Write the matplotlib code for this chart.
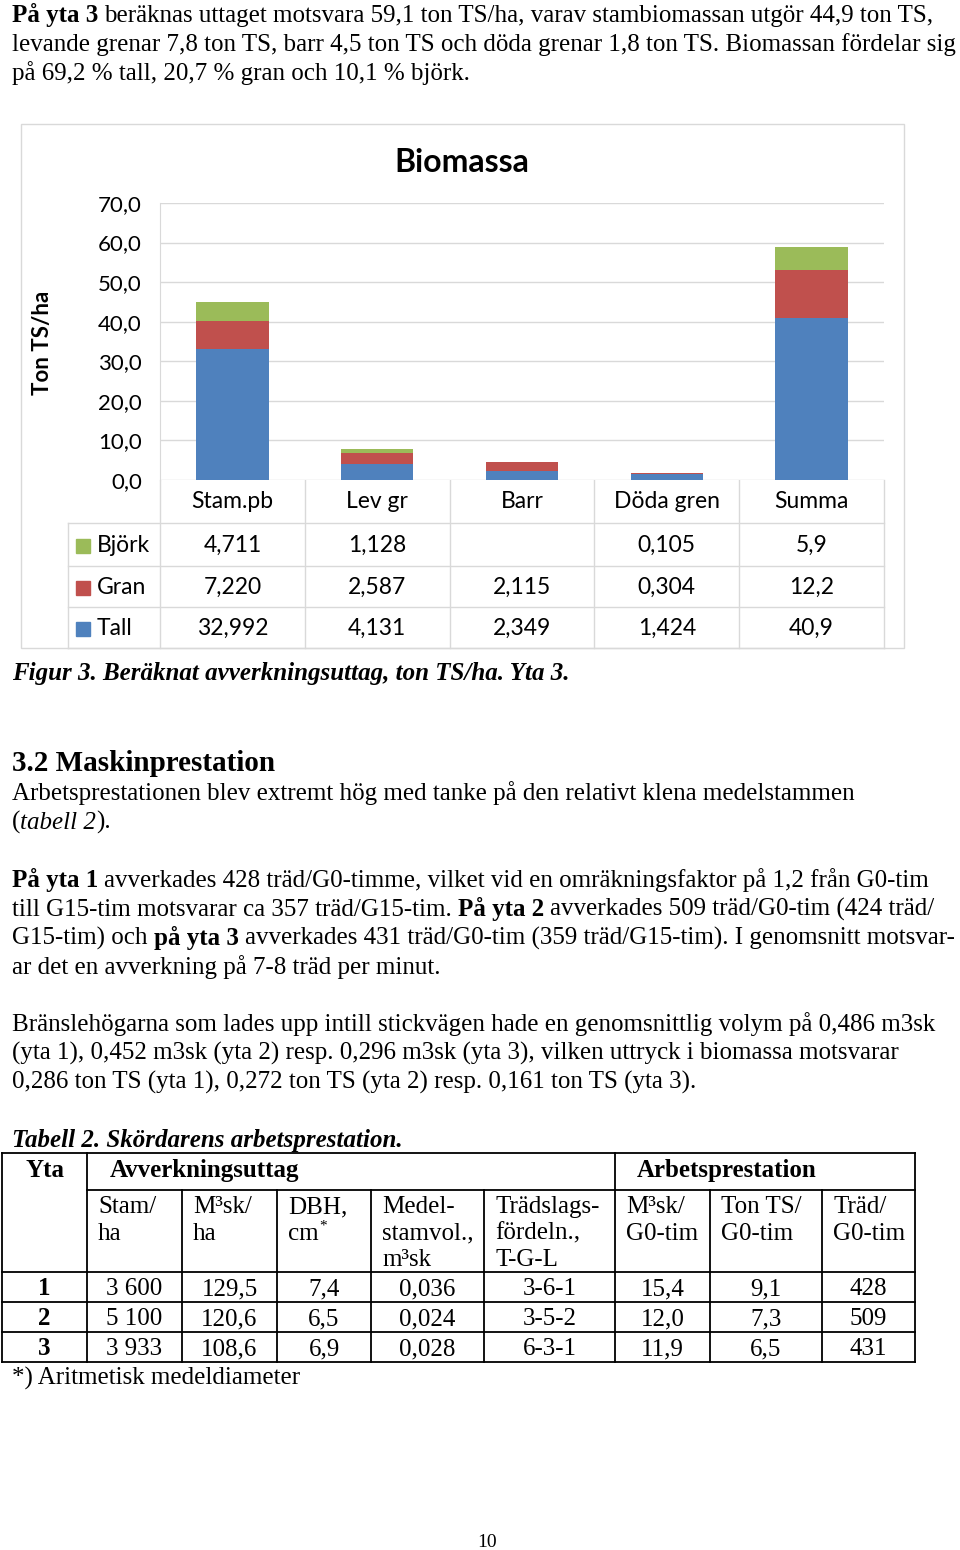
import matplotlib.pyplot as plt
from matplotlib.patches import Rectangle

# Figur 3 - biomassa per fraktion (ton TS/ha)
categories = ['Stam.pb', 'Lev gr', 'Barr', 'Döda gren', 'Summa']
series_names = ['Björk', 'Gran', 'Tall']
tall = [32.992, 4.131, 2.349, 1.424, 40.9]
gran = [7.220, 2.587, 2.115, 0.304, 12.2]
bjork = [4.711, 1.128, None, 0.105, 5.9]
decimals = [3, 3, 3, 3, 1]
yticks = [0, 10, 20, 30, 40, 50, 60, 70]

# Tabell 2 - skördarens arbetsprestation
yta = ['1', '2', '3']
stam_ha = ['3 600', '5 100', '3 933']
m3sk_ha = [129.5, 120.6, 108.6]
dbh = [7.4, 6.5, 6.9]
medelstamvol = [0.036, 0.024, 0.028]
tradslag = ['3-6-1', '3-5-2', '6-3-1']
m3sk_g0 = [15.4, 12.0, 11.9]
tonts_g0 = [9.1, 7.3, 6.5]
trad_g0 = [428, 509, 431]
headers = [['Stam/', 'ha'], ['M³sk/', 'ha'], ['DBH,', 'cm'], ['Medel-', 'stamvol.,', 'm³sk'],
           ['Trädslags-', 'fördeln.,', 'T-G-L'], ['M³sk/', 'G0-tim'], ['Ton TS/', 'G0-tim'], ['Träd/', 'G0-tim']]

BLUE, RED, GREEN = '#4F81BD', '#C0504D', '#9BBB59'
GRID = '#d9d9d9'
SERIF = 'Liberation Serif'
SANS = 'Lato'
BODY = 18

W, H = 960, 1550
fig = plt.figure(figsize=(W / 100, H / 100), dpi=100)
page = fig.add_axes([0, 0, 1, 1])
page.set_xlim(0, W)
page.set_ylim(H, 0)
page.axis('off')
renderer = fig.canvas.get_renderer()


def comma(v, d):
    return f'{v:.{d}f}'.replace('.', ',')


def ext(s, kw):
    t = page.text(0, 0, s, **kw)
    w = t.get_window_extent(renderer).width
    t.remove()
    return w


def rich(x, y, parts, size=BODY):
    # parts = (text, weight, style), each drawn as one string after the other
    for s, weight, style in parts:
        kw = dict(fontsize=size, family=SERIF, weight=weight, style=style, va='baseline')
        xx = ext('xx', kw)
        sp = ext('x x', kw) - xx
        core = s.strip(' ')
        x += (len(s) - len(s.lstrip(' '))) * sp
        page.text(x, y, core, **kw)
        x += ext('x' + core + 'x', kw) - xx
        x += (len(s) - len(s.rstrip(' '))) * sp
    return x


N, B, I = 'normal', 'bold', 'italic'

# text above the chart
rich(12, 22, [('På yta 3', B, N), (' beräknas uttaget motsvara 59,1 ton TS/ha, varav stambiomassan utgör 44,9 ton TS,', N, N)])
rich(12, 51, [('levande grenar 7,8 ton TS, barr 4,5 ton TS och döda grenar 1,8 ton TS. Biomassan fördelar sig', N, N)])
rich(12, 80, [('på 69,2 % tall, 20,7 % gran och 10,1 % björk.', N, N)])

# ---- chart ----
page.add_patch(Rectangle((21, 124), 883, 524, fill=False, ec=GRID, lw=1))
ax = fig.add_axes([160 / W, 1 - 480 / H, (884 - 160) / W, (480 - 203) / H])
xs = range(len(categories))
bj = [v if v is not None else 0 for v in bjork]
base2 = [a + b for a, b in zip(tall, gran)]
ax.bar(xs, tall, 0.5, color=BLUE, zorder=3)
ax.bar(xs, gran, 0.5, bottom=tall, color=RED, zorder=3)
ax.bar(xs, bj, 0.5, bottom=base2, color=GREEN, zorder=3)
ax.set_xlim(-0.5, len(categories) - 0.5)
ax.set_ylim(0, 70)
ax.set_yticks(yticks)
ax.set_yticklabels([comma(v, 1) for v in yticks], fontsize=16, family=SANS)
ax.tick_params(axis='y', length=0, pad=13)
ax.set_xticks([])
ax.grid(axis='y', color=GRID, lw=1, zorder=0)
for s in ['top', 'right', 'bottom']:
    ax.spines[s].set_visible(False)
ax.spines['left'].set_color(GRID)

page.text(462, 163, 'Biomassa', ha='center', va='center', fontsize=23, weight='bold', family=SANS)
page.text(42, 343, 'Ton TS/ha', rotation=90, ha='center', va='center', fontsize=16, weight='bold', family=SANS)

# data table under the chart
edges = [ax.transData.transform((i - 0.5, 0))[0] for i in range(len(categories) + 1)]
row_lines = [480, 523, 566, 607, 648]
for y in row_lines[1:]:
    page.plot([68, edges[-1]], [y, y], color=GRID, lw=1)
for e in edges[1:]:
    page.plot([e, e], [480, 648], color=GRID, lw=1)
page.plot([edges[0], edges[0]], [480, 648], color=GRID, lw=1)
page.plot([68, 68], [523, 648], color=GRID, lw=1)
for i, c in enumerate(categories):
    cx = (edges[i] + edges[i + 1]) / 2
    page.text(cx, 502, c, ha='center', va='center', fontsize=16.5, family=SANS)
series_vals = [bjork, gran, tall]
colors = [GREEN, RED, BLUE]
for r, (name, vals, col) in enumerate(zip(series_names, series_vals, colors)):
    yc = (row_lines[r + 1] + row_lines[r + 2]) / 2 + 1
    page.add_patch(Rectangle((76, yc - 7), 14, 14, color=col))
    page.text(97, yc, name, va='center', fontsize=16.5, family=SANS)
    for i, v in enumerate(vals):
        if v is None:
            continue
        cx = (edges[i] + edges[i + 1]) / 2
        page.text(cx, yc, comma(v, decimals[i]), ha='center', va='center', fontsize=16.5, family=SANS)

rich(12, 680, [('Figur 3. Beräknat avverkningsuttag, ton TS/ha. Yta 3.', B, I)])

# ---- 3.2 ----
rich(12, 771, [('3.2 Maskinprestation', B, N)], size=21)
rich(12, 800, [('Arbetsprestationen blev extremt hög med tanke på den relativt klena medelstammen', N, N)])
rich(12, 829, [('(', N, N), ('tabell 2', N, I), (').', N, N)])

rich(12, 887, [('På yta 1', B, N), (' avverkades 428 träd/G0-timme, vilket vid en omräkningsfaktor på 1,2 från G0-tim', N, N)])
rich(12, 916, [('till G15-tim motsvarar ca 357 träd/G15-tim. ', N, N), ('På yta 2', B, N), (' avverkades 509 träd/G0-tim (424 träd/', N, N)])
rich(12, 945, [('G15-tim) och ', N, N), ('på yta 3', B, N), (' avverkades 431 träd/G0-tim (359 träd/G15-tim). I genomsnitt motsvar-', N, N)])
rich(12, 974, [('ar det en avverkning på 7-8 träd per minut.', N, N)])

rich(12, 1031, [('Bränslehögarna som lades upp intill stickvägen hade en genomsnittlig volym på 0,486 m3sk', N, N)])
rich(12, 1060, [('(yta 1), 0,452 m3sk (yta 2) resp. 0,296 m3sk (yta 3), vilken uttryck i biomassa motsvarar', N, N)])
rich(12, 1089, [('0,286 ton TS (yta 1), 0,272 ton TS (yta 2) resp. 0,161 ton TS (yta 3).', N, N)])

rich(12, 1147, [('Tabell 2. Skördarens arbetsprestation.', B, I)])

# ---- Tabell 2 ----
cols = [2, 87, 182, 277, 371, 484, 615, 710, 822, 915]
rows = [1153, 1190, 1272, 1302, 1332, 1362]
lk = dict(color='black', lw=1.3)
page.plot([cols[0], cols[-1]], [rows[0], rows[0]], **lk)
page.plot([cols[1], cols[-1]], [rows[1], rows[1]], **lk)
for y in rows[2:]:
    page.plot([cols[0], cols[-1]], [y, y], **lk)
for c in [cols[0], cols[1], cols[6], cols[-1]]:
    page.plot([c, c], [rows[0], rows[-1]], **lk)
for c in cols[2:6] + cols[7:9]:
    page.plot([c, c], [rows[1], rows[-1]], **lk)

tk = dict(fontsize=BODY, family=SERIF, va='baseline')
page.text((cols[0] + cols[1]) / 2, 1177, 'Yta', ha='center', weight='bold', **tk)
page.text(110, 1177, 'Avverkningsuttag', weight='bold', **tk)
page.text(637, 1177, 'Arbetsprestation', weight='bold', **tk)
for j, lines in enumerate(headers):
    for k, s in enumerate(lines):
        t = page.text(cols[j + 1] + 11, 1213 + k * 26.5, s, **tk)
        if s == 'cm':
            xe = t.get_window_extent(renderer).x1
            page.text(xe + 1, 1213 + k * 26.5 - 10, '*', fontsize=11, family=SERIF, va='baseline')

table_cols = [stam_ha, [comma(v, 1) for v in m3sk_ha], [comma(v, 1) for v in dbh],
              [comma(v, 3) for v in medelstamvol], tradslag, [comma(v, 1) for v in m3sk_g0],
              [comma(v, 1) for v in tonts_g0], [str(v) for v in trad_g0]]
for r in range(len(yta)):
    yb = rows[r + 2] + 23
    page.text((cols[0] + cols[1]) / 2, yb, yta[r], ha='center', weight='bold', **tk)
    for j, colvals in enumerate(table_cols):
        page.text((cols[j + 1] + cols[j + 2]) / 2, yb, colvals[r], ha='center', **tk)

rich(12, 1385, [('*) Aritmetisk medeldiameter', N, N)])
page.text(487, 1547, '10', ha='center', va='baseline', fontsize=14, family=SERIF)

fig.savefig('out.png', dpi=100)
